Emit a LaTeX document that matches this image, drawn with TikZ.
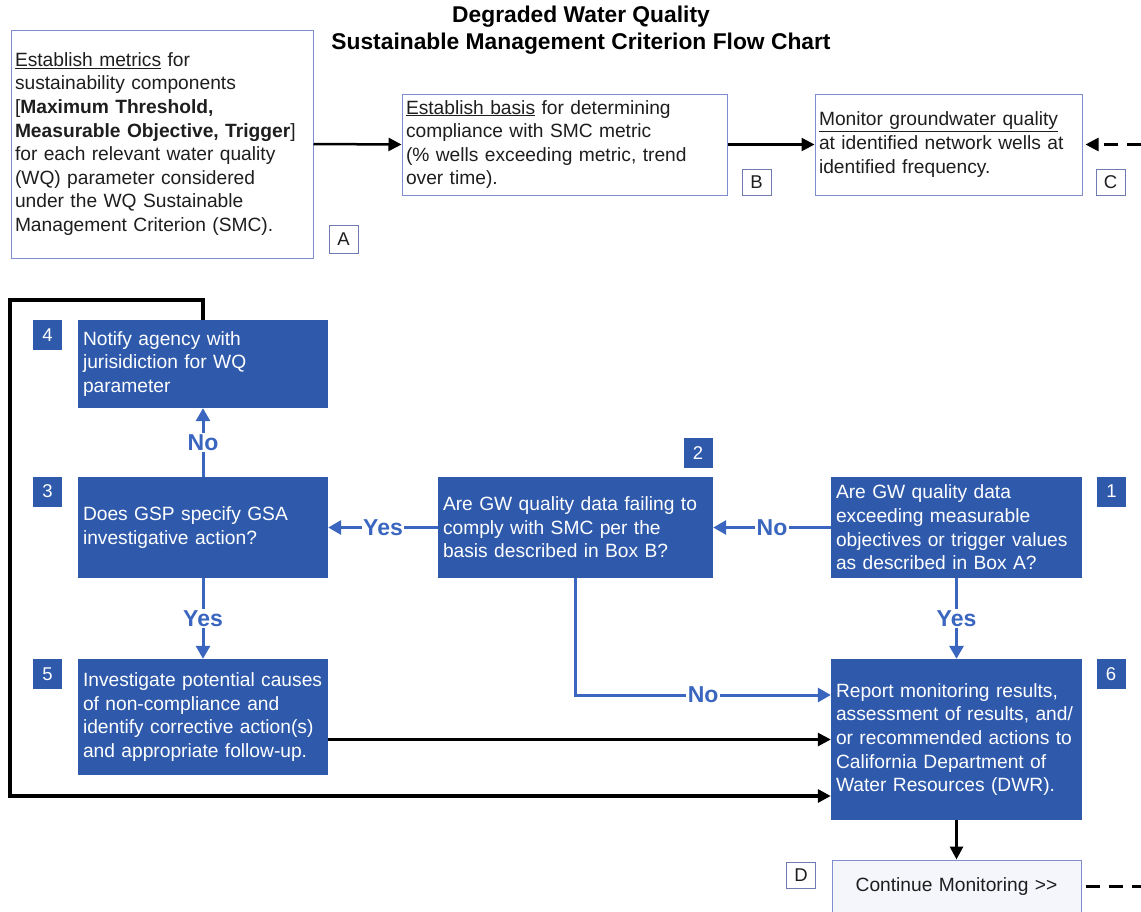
\documentclass[tikz,border=0pt]{standalone}
\usepackage{fontspec}
\setmainfont{Liberation Sans}
\usetikzlibrary{arrows.meta}
\definecolor{boxblue}{RGB}{47,90,172}
\definecolor{lineblue}{RGB}{58,102,192}
\definecolor{wborder}{RGB}{128,140,208}
\definecolor{lborder}{RGB}{112,124,176}
\definecolor{textdark}{RGB}{30,30,30}
\definecolor{dfill}{RGB}{244,246,252}
\begin{document}
\begin{tikzpicture}[x=1pt,y=-1pt,
  wbox/.style={draw=wborder, line width=1pt, fill=white, text=textdark, inner xsep=4pt, inner ysep=0pt, align=left, font=\fontsize{19.2}{23.6}\selectfont},
  bbox/.style={fill=boxblue, text=white, inner xsep=5pt, inner ysep=0pt, align=left, font=\fontsize{19.2}{23.6}\selectfont},
  numbox/.style={fill=boxblue, text=white, minimum width=29pt, minimum height=30pt, inner sep=0pt, font=\fontsize{18.5}{18.5}\selectfont},
  letbox/.style={draw=lborder, line width=0.8pt, fill=white, text=textdark, minimum width=29pt, minimum height=26pt, inner sep=0pt, font=\fontsize{18.5}{18.5}\selectfont},
  barrow/.style={draw=lineblue, line width=3pt, -{Triangle[length=13pt,width=14pt]}},
  karrow/.style={draw=black, line width=2.8pt, -{Triangle[length=13pt,width=13pt]}},
  lbl/.style={fill=white, text=lineblue, font=\bfseries\fontsize{23}{23}\selectfont, inner sep=1.5pt},
  title/.style={align=center, text=black, font=\bfseries\fontsize{22.8}{27}\selectfont}
]
\useasboundingbox (0,0) rectangle (1141,911);
\fill[white] (0,0) rectangle (1141,911);
\coordinate (re) at (1141,0);
\coordinate (lt) at (10,300);
\coordinate (lb) at (10,796);

% title
\node[title] (ttl) at (581,30) {Degraded Water Quality\\Sustainable Management Criterion Flow Chart};

% top white boxes
\node[wbox, text width=294pt, minimum height=228pt] (A) at (162,144) {\underline{Establish metrics} for\\sustainability components\\{[}\textbf{Maximum Threshold,}\\\textbf{Measurable Objective, Trigger}{]}\\for each relevant water quality\\(WQ) parameter considered\\under the WQ Sustainable\\Management Criterion (SMC).};
\node[wbox, text width=317pt, minimum height=101pt] (B) at (564.5,144.5) {\underline{Establish basis} for determining\\compliance with SMC metric\\(\% wells exceeding metric, trend\\over time).};
\node[wbox, text width=259pt, minimum height=101pt] (C) at (948.5,144.5) {\underline{Monitor groundwater quality}\\at identified network wells at\\identified frequency.};

\node[letbox, minimum height=28pt] (lA) at (343.5,239) {A};
\node[letbox] (lB) at (756.5,182.5) {B};
\node[letbox] (lC) at (1110.5,182.5) {C};

% blue boxes
\node[bbox, text width=240pt, minimum height=88pt] (b4) at (203,364) {Notify agency with\\jurisidiction for WQ\\parameter};
\node[bbox, text width=240pt, minimum height=101pt] (b3) at (203,527.5) {Does GSP specify GSA\\investigative action?};
\node[bbox, text width=265pt, minimum height=101pt] (b2) at (575.5,527.5) {Are GW quality data failing to\\comply with SMC per the\\basis described in Box B?};
\node[bbox, text width=241pt, minimum height=101pt] (b1) at (956.5,527.5) {Are GW quality data\\exceeding measurable\\objectives or trigger values\\as described in Box A?};
\node[bbox, text width=240pt, minimum height=116pt] (b5) at (203,717) {Investigate potential causes\\of non-compliance and\\identify corrective action(s)\\and appropriate follow-up.};
\node[bbox, text width=241pt, minimum height=161pt] (b6) at (956.5,739.5) {Report monitoring results,\\assessment of results, and/\\or recommended actions to\\California Department of\\Water Resources (DWR).};
\node[wbox, fill=dfill, align=center, text width=241pt, minimum height=53pt] (bD) at (956.5,886.5) {Continue Monitoring {>}{>}};

\node[numbox] (n4) at (47.5,335) {4};
\node[numbox] (n3) at (47.5,491.5) {3};
\node[numbox] (n2) at (698,453) {2};
\node[numbox] (n1) at (1111.5,491.5) {1};
\node[numbox] (n5) at (47.5,674) {5};
\node[numbox] (n6) at (1111,674) {6};
\node[letbox] (lD) at (801,875) {D};

% top connectors
\draw[karrow, line width=2.5pt] (A.east) -- (B.west);
\draw[karrow, line width=2.5pt] (B.east) -- (C.west);
\draw[karrow, line width=2.5pt, dash pattern=on 14pt off 9pt] (C.east -| re) -- ([xshift=3pt]C.east);

% blue connectors
\draw[barrow] (b1.west) -- node[lbl]{No} (b2.east);
\draw[barrow] (b2.west) -- node[lbl]{Yes} (b3.east);
\draw[barrow] (b3.north) -- node[lbl]{No} (b4.south);
\draw[barrow] (b3.south) -- node[lbl]{Yes} (b5.north);
\draw[barrow] (b1.south) -- node[lbl]{Yes} (b6.north);
\draw[barrow] (b2.south) |- node[lbl, pos=0.75]{No} ([yshift=44.5pt]b6.west);

% black connectors
\draw[karrow] (b5.east |- b6.west) -- (b6.west);
\draw[karrow, line width=3.2pt] (b4.north) -- (b4.north |- lt) -- (lt) -- (lb) -- (lb -| b6.west);
\draw[karrow] (b6.south) -- (bD.north);
\draw[draw=black, line width=2.8pt, dash pattern=on 14pt off 9pt] ([xshift=4pt]bD.east) -- (bD.east -| re);
\end{tikzpicture}
\end{document}
